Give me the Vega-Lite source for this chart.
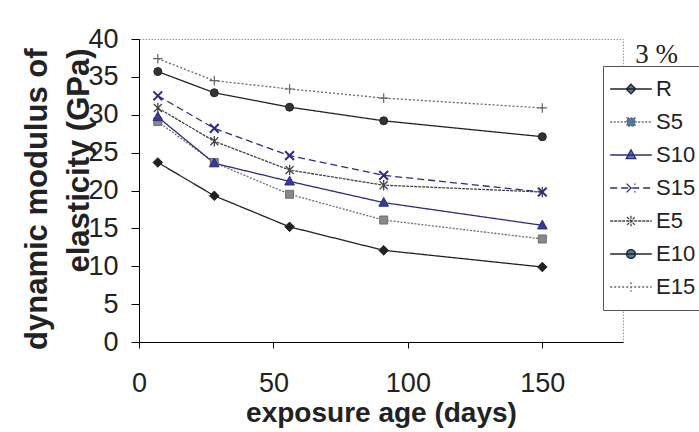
{
  "$schema": "https://vega.github.io/schema/vega-lite/v6.json",
  "width": 484,
  "height": 303,
  "autosize": {"type": "none"},
  "padding": {"left": 139, "top": 39, "right": 76, "bottom": 90},
  "background": "white",
  "title": {"text": "3 %", "anchor": "end", "frame": "group", "orient": "top", "font": "Liberation Serif", "fontSize": 27, "fontWeight": "normal", "color": "#222", "baseline": "alphabetic", "offset": 0, "dx": 55, "dy": 65},
  "data": {
    "values": [
      {"s": "R", "d": 7, "v": 23.7}, {"s": "R", "d": 28, "v": 19.3}, {"s": "R", "d": 56, "v": 15.2}, {"s": "R", "d": 91, "v": 12.1}, {"s": "R", "d": 150, "v": 9.9},
      {"s": "S5", "d": 7, "v": 29.1}, {"s": "S5", "d": 28, "v": 23.7}, {"s": "S5", "d": 56, "v": 19.5}, {"s": "S5", "d": 91, "v": 16.1}, {"s": "S5", "d": 150, "v": 13.6},
      {"s": "S10", "d": 7, "v": 29.7}, {"s": "S10", "d": 28, "v": 23.6}, {"s": "S10", "d": 56, "v": 21.2}, {"s": "S10", "d": 91, "v": 18.4}, {"s": "S10", "d": 150, "v": 15.4},
      {"s": "S15", "d": 7, "v": 32.5}, {"s": "S15", "d": 28, "v": 28.2}, {"s": "S15", "d": 56, "v": 24.6}, {"s": "S15", "d": 91, "v": 22.0}, {"s": "S15", "d": 150, "v": 19.8},
      {"s": "E5", "d": 7, "v": 30.9}, {"s": "E5", "d": 28, "v": 26.5}, {"s": "E5", "d": 56, "v": 22.7}, {"s": "E5", "d": 91, "v": 20.7}, {"s": "E5", "d": 150, "v": 19.8},
      {"s": "E10", "d": 7, "v": 35.7}, {"s": "E10", "d": 28, "v": 32.9}, {"s": "E10", "d": 56, "v": 31.0}, {"s": "E10", "d": 91, "v": 29.2}, {"s": "E10", "d": 150, "v": 27.1},
      {"s": "E15", "d": 7, "v": 37.4}, {"s": "E15", "d": 28, "v": 34.5}, {"s": "E15", "d": 56, "v": 33.4}, {"s": "E15", "d": 91, "v": 32.2}, {"s": "E15", "d": 150, "v": 30.9}
    ]
  },
  "encoding": {
    "x": {"field": "d", "type": "quantitative", "scale": {"domain": [0, 180], "nice": false},
      "axis": {"values": [0, 50, 100, 150], "title": "exposure age (days)", "grid": false, "labelFontSize": 27, "titleFontSize": 28, "titleFontWeight": "bold", "tickSize": 6, "labelPadding": 22, "titlePadding": 3, "labelFlush": false}},
    "y": {"field": "v", "type": "quantitative", "scale": {"domain": [0, 40], "nice": false},
      "axis": {"values": [0, 5, 10, 15, 20, 25, 30, 35, 40], "title": ["dynamic modulus of", "elasticity (GPa)"], "grid": false, "labelFontSize": 27, "titleFontSize": 31, "titleFontWeight": "bold", "titleLineHeight": 42, "titleAngle": -90, "titleAlign": "right", "titleBaseline": "alphabetic", "titleX": -93, "titleY": 9, "tickSize": 8, "labelPadding": 13, "labelFlush": false}}
  },
  "layer": [
    {
      "mark": {"type": "point", "filled": true, "size": 64, "opacity": 0},
      "encoding": {
        "shape": {"field": "s", "type": "nominal",
          "scale": {"domain": ["R", "S5", "S10", "S15", "E5", "E10", "E15"], "range": [
            "M-5.2,0H5.2M0,-1.2L1.2,0L0,1.2L-1.2,0Z",
            "M-5.2,0H5.2M-1,-1H1V1H-1Z",
            "M-5.2,0H5.2M0,-1.3L1.2,0.9H-1.2Z",
            "M-5.2,0H5.2M-1.1,-1.1L1.1,1.1M-1.1,1.1L1.1,-1.1",
            "M-5.2,0H5.2M-1,-1L1,1M-1,1L1,-1M0,-1.3V1.3",
            "M-5.2,0H5.2M1.1,0A1.1,1.1 0 1,1 -1.1,0A1.1,1.1 0 1,1 1.1,0Z",
            "M-5.2,0H5.2M0,-1.2V1.2"]},
          "legend": {
            "orient": "none", "legendX": 464, "legendY": 27, "title": null,
            "strokeColor": "#555", "fillColor": "white", "padding": 12,
            "labelFontSize": 22, "labelFont": "Liberation Sans", "labelColor": "#222",
            "symbolSize": 64, "symbolOpacity": 1, "symbolOffset": 5, "labelOffset": 14, "rowPadding": 11,
            "encode": {
              "symbols": {
                "fill": {"value": {"expr": "{'R':'#222222','S5':'#888888','S10':'#3a3a96','S15':'transparent','E5':'transparent','E10':'#333333','E15':'transparent'}[datum.value]"}},
                "stroke": {"value": {"expr": "{'R':'#222222','S5':'#6e6e6e','S10':'#2c2c80','S15':'#2c2c88','E5':'#444444','E10':'#222222','E15':'#666666'}[datum.value]"}},
                "strokeWidth": {"value": {"expr": "{'R':1.3,'S5':1.3,'S10':2.6,'S15':1.8,'E5':1.2,'E10':1.3,'E15':1.1}[datum.value]"}},
                "strokeDash": {"value": {"expr": "{'R':[1,0],'S5':[2,1.5],'S10':[1,0],'S15':[4,3],'E5':[3,1],'E10':[1,0],'E15':[2,2]}[datum.value]"}},
                "opacity": {"value": 1}
              }
            }
          }}
      }
    },
    {
      "mark": {"type": "line"},
      "encoding": {
        "detail": {"field": "s"},
        "stroke": {"field": "s", "type": "nominal",
          "scale": {"domain": ["R", "S5", "S10", "S15", "E5", "E10", "E15"], "range": ["#222222", "#6e6e6e", "#2c2c80", "#2c2c88", "#444444", "#222222", "#666666"]}},
        "strokeDash": {"field": "s", "type": "nominal",
          "scale": {"domain": ["R", "S5", "S10", "S15", "E5", "E10", "E15"], "range": [[1, 0], [2, 1.5], [1, 0], [7, 4], [3, 1], [1, 0], [2, 2]]}},
        "strokeWidth": {"field": "s", "type": "nominal",
          "scale": {"domain": ["R", "S5", "S10", "S15", "E5", "E10", "E15"], "range": [1.3, 1.3, 2.8, 2.4, 1.2, 1.3, 1.1]}}
      }
    },
    {"transform": [{"filter": "datum.s == 'R'"}], "mark": {"type": "point", "filled": true, "size": 64, "shape": "M0,-1.2L1.2,0L0,1.2L-1.2,0Z", "fill": "#222222", "stroke": "#222222", "strokeWidth": 1, "opacity": 1}},
    {"transform": [{"filter": "datum.s == 'S5'"}], "mark": {"type": "point", "filled": true, "size": 64, "shape": "M-1,-1H1V1H-1Z", "fill": "#888888", "stroke": "#6e6e6e", "strokeWidth": 1, "opacity": 1}},
    {"transform": [{"filter": "datum.s == 'E5'"}], "mark": {"type": "point", "filled": true, "size": 64, "shape": "M-1,-1L1,1M-1,1L1,-1M0,-1.3V1.3", "fill": "transparent", "stroke": "#444444", "strokeWidth": 1.3, "opacity": 1}},
    {"transform": [{"filter": "datum.s == 'E10'"}], "mark": {"type": "point", "filled": true, "size": 64, "shape": "circle", "fill": "#333333", "stroke": "#222222", "strokeWidth": 1, "opacity": 1}},
    {"transform": [{"filter": "datum.s == 'E15'"}], "mark": {"type": "point", "filled": true, "size": 64, "shape": "M-1.2,0H1.2M0,-1.2V1.2", "fill": "transparent", "stroke": "#666666", "strokeWidth": 1.2, "opacity": 1}},
    {"transform": [{"filter": "datum.s == 'S10'"}], "mark": {"type": "point", "filled": true, "size": 64, "shape": "M0,-1.3L1.2,0.9H-1.2Z", "fill": "#3a3a96", "stroke": "#2c2c80", "strokeWidth": 1, "opacity": 1}},
    {"transform": [{"filter": "datum.s == 'S15'"}], "mark": {"type": "point", "filled": true, "size": 64, "shape": "M-1.1,-1.1L1.1,1.1M-1.1,1.1L1.1,-1.1", "fill": "transparent", "stroke": "#2c2c88", "strokeWidth": 2, "opacity": 1}}
  ],
  "config": {
    "font": "Liberation Sans",
    "view": {"stroke": "#999999", "strokeDash": [1.5, 1.5], "strokeWidth": 1},
    "axis": {"labelColor": "#222", "titleColor": "#222", "domainColor": "#000", "tickColor": "#000", "domainWidth": 1, "tickWidth": 1, "labelFont": "Liberation Sans", "titleFont": "Liberation Sans"}
  }
}
